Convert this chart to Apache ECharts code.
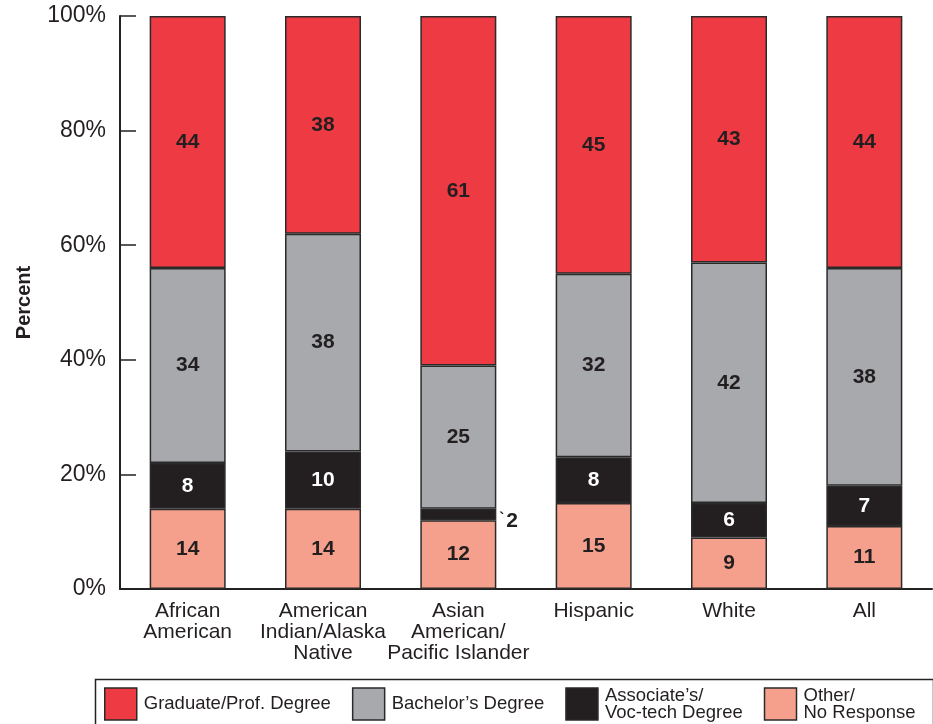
<!DOCTYPE html>
<html>
<head>
<meta charset="utf-8">
<script src="https://cdn.jsdelivr.net/npm/echarts@6/dist/echarts.min.js"></script>
<style>
html,body{margin:0;padding:0;background:#fff;}
#chart{width:933px;height:724px;}
</style>
</head>
<body>
<div id="chart"></div>
<script>
var categories = ['African\nAmerican', 'American\nIndian/Alaska\nNative', 'Asian\nAmerican/\nPacific Islander', 'Hispanic', 'White', 'All'];
var otherNoResponse = [14, 14, 12, 15, 9, 11];
var associatesVocTech = [8, 10, 2, 8, 6, 7];
var bachelors = [34, 38, 25, 32, 42, 38];
var graduateProf = [44, 38, 61, 45, 43, 44];
var yTicks = [0, 20, 40, 60, 80, 100];

var FONT = '"Liberation Sans", Arial, Helvetica, sans-serif';
var DARK = '#231f20';
var border = {borderColor: '#2a2a2a', borderWidth: 1.5};

function labelStyle(color) {
  return {show: true, position: 'inside', color: color, fontFamily: FONT, fontSize: 21, fontWeight: 'bold'};
}

var associatesData = associatesVocTech.map(function (v) {
  if (v < 4) {
    return {
      value: v,
      label: {
        show: true, position: 'right', distance: 3, offset: [0, 7],
        formatter: '{t|`}{n|' + v + '}',
        rich: {
          t: {fontFamily: FONT, fontSize: 15, color: DARK, padding: [0, 2, 6, 0]},
          n: {fontFamily: FONT, fontSize: 21, fontWeight: 'bold', color: DARK}
        }
      }
    };
  }
  return v;
});

var chart = echarts.init(document.getElementById('chart'), null, {renderer: 'canvas'});
chart.setOption({
  animation: false,
  backgroundColor: '#ffffff',
  textStyle: {fontFamily: FONT},
  grid: {left: 120, right: 1, top: 16, bottom: 135, containLabel: false},
  legend: {
    data: ['Graduate/Prof. Degree', "Bachelor\u2019s Degree", 'Associate\u2019s/\nVoc-tech Degree', 'Other/\nNo Response'],
    left: 99, top: 681,
    itemWidth: 32, itemHeight: 32, itemGap: 21,
    icon: 'rect',
    padding: 5,
    textStyle: {fontFamily: FONT, fontSize: 18.5, color: DARK, lineHeight: 17, padding: [0, 0, 0, 2]},
    itemStyle: {borderColor: '#2a2a2a', borderWidth: 1.5}
  },
  graphic: [{
    type: 'rect', left: 93, top: 677,
    shape: {width: 838, height: 60},
    style: {fill: 'none', stroke: '#222', lineWidth: 1.5},
    silent: true
  }],
  xAxis: {
    type: 'category',
    data: categories,
    axisTick: {show: false},
    axisLine: {lineStyle: {color: '#222', width: 2}},
    axisLabel: {fontFamily: FONT, fontSize: 21, lineHeight: 21, color: DARK, margin: 12, interval: 0}
  },
  yAxis: {
    type: 'value',
    min: yTicks[0], max: yTicks[yTicks.length - 1], interval: 20,
    name: 'Percent',
    nameLocation: 'middle',
    nameRotate: 90,
    nameGap: 86,
    nameTextStyle: {fontFamily: FONT, fontSize: 20, fontWeight: 'bold', color: DARK},
    splitLine: {show: false},
    axisLine: {show: true, lineStyle: {color: '#222', width: 2}},
    axisTick: {show: true, inside: true, length: 16, lineStyle: {color: '#222', width: 1.5}},
    axisLabel: {formatter: '{value}%', fontFamily: FONT, fontSize: 23, color: DARK, margin: 14}
  },
  series: [
    {name: 'Other/\nNo Response', type: 'bar', stack: 'total', barWidth: 76, data: otherNoResponse,
     itemStyle: Object.assign({color: '#f5a08c'}, border), label: labelStyle(DARK)},
    {name: 'Associate\u2019s/\nVoc-tech Degree', type: 'bar', stack: 'total', barWidth: 76, data: associatesData,
     itemStyle: Object.assign({color: '#231f20'}, border), label: labelStyle('#ffffff')},
    {name: "Bachelor\u2019s Degree", type: 'bar', stack: 'total', barWidth: 76, data: bachelors,
     itemStyle: Object.assign({color: '#a7a9ac'}, border), label: labelStyle(DARK)},
    {name: 'Graduate/Prof. Degree', type: 'bar', stack: 'total', barWidth: 76, data: graduateProf,
     itemStyle: Object.assign({color: '#ee3a43'}, border), label: labelStyle(DARK)}
  ]
});
</script>
</body>
</html>
